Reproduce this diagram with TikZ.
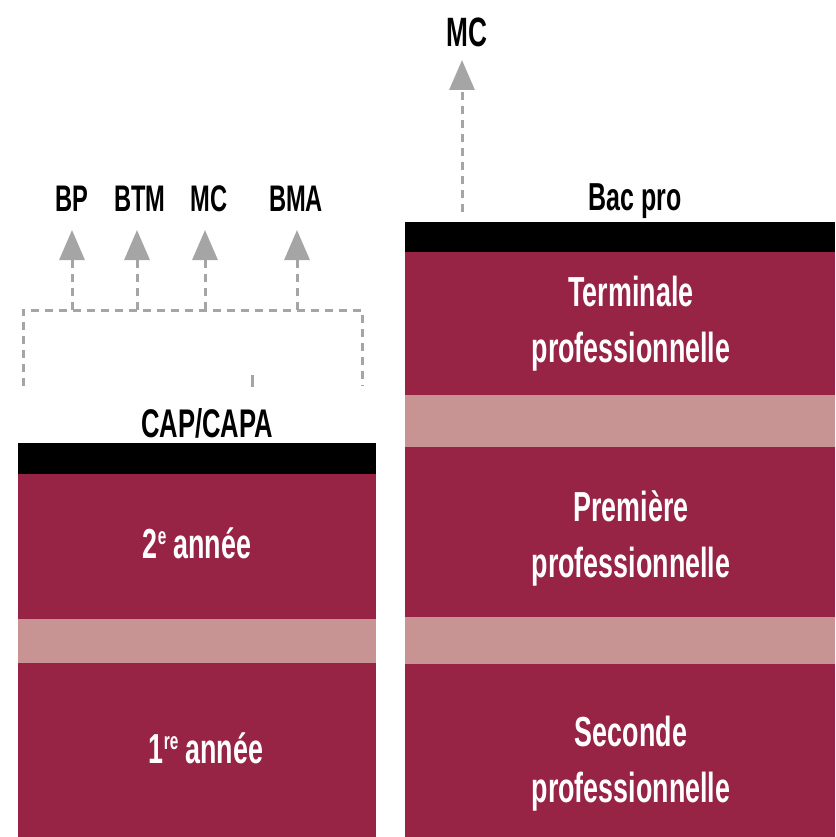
\documentclass[tikz,border=0pt]{standalone}
\usepackage{fontspec}
\setmainfont{Liberation Sans}
\newfontfamily\condA[FakeStretch=0.64]{Liberation Sans}
\usetikzlibrary{arrows.meta}
\definecolor{darkred}{RGB}{151,35,69}
\definecolor{lightred}{RGB}{200,148,147}
\definecolor{arrowgrey}{RGB}{165,165,165}
\newcommand{\supx}[1]{\raisebox{0.32em}{\fontsize{24}{24}\selectfont #1}}
\begin{document}
\begin{tikzpicture}[x=1pt,y=-1pt,
  band/.style={fill=darkred,draw=none},
  gap/.style={fill=lightred,draw=none},
  topbar/.style={fill=black,draw=none},
  boxtext/.style={text=white,font=\condA\bfseries\fontsize{42}{56}\selectfont,align=center,inner sep=0pt,anchor=base},
  lbl/.style={text=black,font=\condA\bfseries\fontsize{37}{42}\selectfont,inner sep=0pt,anchor=base},
  dashline/.style={draw=arrowgrey,line width=3pt,dash pattern=on 8pt off 6pt},
  garrow/.style={dashline,-{Triangle[length=30pt,width=25pt]}}
]
\useasboundingbox (0,0) rectangle (835,837);
% left column
\fill[topbar] (18,443) rectangle (376,474);
\fill[band] (18,474) rectangle (376,619);
\fill[gap] (18,619) rectangle (376,663);
\fill[band] (18,663) rectangle (376,837);
% right column
\fill[topbar] (405,222) rectangle (835,252);
\fill[band] (405,252) rectangle (835,395);
\fill[gap] (405,395) rectangle (835,447);
\fill[band] (405,447) rectangle (835,617);
\fill[gap] (405,617) rectangle (835,664);
\fill[band] (405,664) rectangle (835,837);
% box texts
\node[boxtext] (an2) at (197,558) {2\supx{e}\,année};
\node[boxtext] (an1) at (206,763) {1\supx{re}\,année};
\node[boxtext] (term) at (631,362) {Terminale\\professionnelle};
\node[boxtext] (prem) at (631,577) {Première\\professionnelle};
\node[boxtext] (sec) at (631,802) {Seconde\\professionnelle};
% labels
\node[lbl] (bp) at (72,211) {BP};
\node[lbl] (btm) at (140,211) {BTM};
\node[lbl] (mc) at (209,211) {MC};
\node[lbl] (bma) at (296,211) {BMA};
\node[lbl,font=\condA\bfseries\fontsize{40}{46}\selectfont] (cap) at (207,437) {CAP/CAPA};
\node[lbl,font=\condA\bfseries\fontsize{39}{46}\selectfont] (bac) at (635,210) {Bac pro};
\node[lbl,font=\condA\bfseries\fontsize{41}{46}\selectfont] (mctop) at (467,47) {MC};
% bracket
\coordinate (bl) at (23,386);
\coordinate (br) at (362,386);
\coordinate (j1) at (72,310);
\coordinate (j2) at (137,310);
\coordinate (j3) at (205,310);
\coordinate (j4) at (297,310);
\coordinate (t1) at (72,230);
\coordinate (t2) at (137,230);
\coordinate (t3) at (205,230);
\coordinate (t4) at (297,230);
\draw[dashline] (bl) -- (23,310) -- (362,310) -- (br);
\draw[garrow] (j1) -- (t1);
\draw[garrow] (j2) -- (t2);
\draw[garrow] (j3) -- (t3);
\draw[garrow] (j4) -- (t4);
\coordinate (capup) at (252,375);
\draw[draw=arrowgrey,line width=3pt] (252,387) -- (capup);
% bac pro arrow
\coordinate (bacfoot) at (462,212);
\coordinate (bactip) at (462,60);
\draw[garrow] (bacfoot) -- (bactip);
\end{tikzpicture}
\end{document}
